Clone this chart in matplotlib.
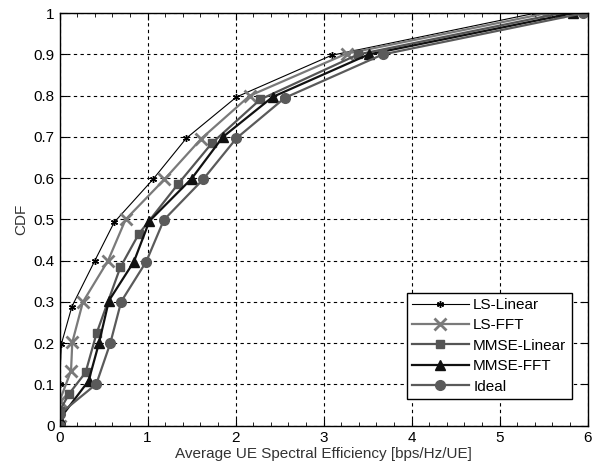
import matplotlib.pyplot as plt
import numpy as np
from matplotlib.ticker import MultipleLocator

plt.rcParams['font.family'] = ['Liberation Sans', 'DejaVu Sans']

# CDF samples (x = spectral efficiency, y = CDF)
ls_lin_x = [0, 0, 0.02, 0.14, 0.40, 0.62, 1.06, 1.44, 2.01, 3.09, 5.40]
ls_lin_y = [0, 0.10, 0.198, 0.289, 0.40, 0.493, 0.597, 0.697, 0.797, 0.898, 1.0]

ls_fft_x = [0, 0, 0.13, 0.144, 0.265, 0.55, 0.75, 1.19, 1.61, 2.16, 3.26, 5.53]
ls_fft_y = [0, 0.06, 0.133, 0.202, 0.30, 0.40, 0.50, 0.597, 0.696, 0.80, 0.902, 1.0]

mmse_lin_x = [0, 0, 0.11, 0.295, 0.42, 0.69, 0.90, 1.35, 1.73, 2.28, 3.39, 5.69]
mmse_lin_y = [0, 0.036, 0.078, 0.129, 0.224, 0.384, 0.465, 0.587, 0.685, 0.791, 0.90, 1.0]

mmse_fft_x = [0, 0.33, 0.447, 0.56, 0.845, 1.02, 1.50, 1.855, 2.42, 3.51, 5.83]
mmse_fft_y = [0.016, 0.109, 0.20, 0.303, 0.398, 0.496, 0.599, 0.70, 0.797, 0.90, 1.0]

ideal_x = [0, 0, 0.417, 0.576, 0.70, 0.985, 1.185, 1.63, 2.01, 2.56, 3.67, 5.95]
ideal_y = [0, 0.028, 0.101, 0.20, 0.301, 0.398, 0.499, 0.597, 0.697, 0.795, 0.90, 1.0]

fig = plt.figure(figsize=(5.96, 4.73), dpi=100)
ax = fig.add_axes([0.1, 0.1, 0.886, 0.872])

ax.plot(ls_lin_x, ls_lin_y, color="black", lw=0.8, marker=(6, 2, 0), ms=5, mew=1, label="LS-Linear")
ax.plot(ls_fft_x, ls_fft_y, color="#7a7a7a", lw=1.6, marker="x", ms=9, mew=2, label="LS-FFT")
ax.plot(mmse_lin_x, mmse_lin_y, color="#555555", lw=1.6, marker="s", ms=6, label="MMSE-Linear")
ax.plot(mmse_fft_x, mmse_fft_y, color="#111111", lw=1.6, marker="^", ms=7, label="MMSE-FFT")
ax.plot(ideal_x, ideal_y, color="#5a5a5a", lw=1.6, marker="o", ms=7, label="Ideal")

ax.set_xlim(0, 6)
ax.set_ylim(0, 1)
ax.set_xticks(np.arange(0, 7, 1))
ax.set_yticks(np.arange(0, 1.01, 0.1))
ax.set_yticklabels(["0", "0.1", "0.2", "0.3", "0.4", "0.5", "0.6", "0.7", "0.8", "0.9", "1"])
ax.xaxis.set_minor_locator(MultipleLocator(0.2))
ax.tick_params(which="both", direction="in", top=True, right=True, labelsize=11, colors="black")
ax.tick_params(which="major", length=5)
ax.tick_params(which="minor", length=3)
ax.grid(True, which="major", color="black", linestyle=(0, (3, 3)), linewidth=0.8)
for s in ax.spines.values():
    s.set_linewidth(1)

ax.set_xlabel("Average UE Spectral Efficiency [bps/Hz/UE]", fontsize=11, color="#333333", labelpad=2)
ax.set_ylabel("CDF", fontsize=11, color="#333333")

leg = ax.legend(loc="lower right", bbox_to_anchor=(0.97, 0.065), fontsize=11, fancybox=False,
                framealpha=1, edgecolor="black", handlelength=3.7, borderpad=0.35, labelspacing=0.42,
                handletextpad=0.3, borderaxespad=0)
leg.get_frame().set_linewidth(1)

fig.savefig("out.png", dpi=100)
